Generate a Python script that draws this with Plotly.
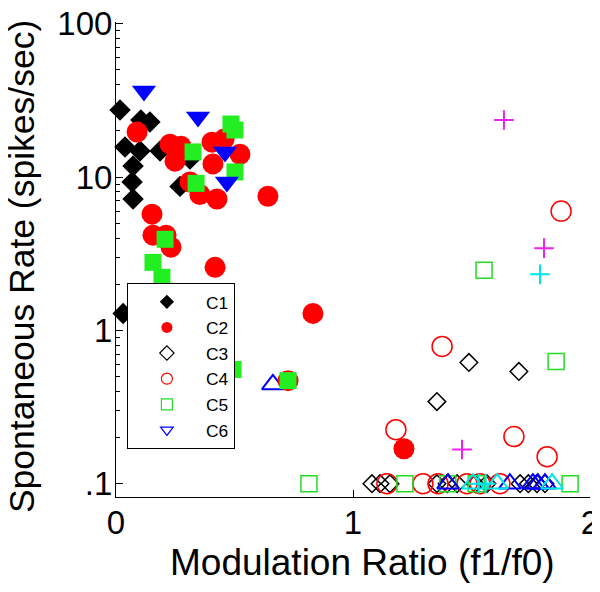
import plotly.graph_objects as go

# ---- data ----
# C1: filled black diamonds
c1_x = [0.017, 0.105, 0.143, 0.038, 0.101, 0.072, 0.068, 0.072, 0.186, 0.270, 0.312, 0.030]
c1_y = [27.4, 23.6, 22.9, 15.7, 14.8, 11.8, 9.3, 7.2, 14.8, 8.7, 13.1, 1.29]
# C2: filled red circles
c2_x = [0.089, 0.152, 0.156, 0.211, 0.232, 0.418, 0.228, 0.274, 0.249, 0.405, 0.456, 0.523,
        0.409, 0.312, 0.354, 0.426, 0.641, 0.831, 0.726, 1.215]
c2_y = [19.7, 5.73, 4.18, 4.18, 3.49, 2.58, 16.4, 15.9, 12.7, 16.9, 17.7, 14.1,
        12.2, 9.3, 7.7, 7.2, 7.5, 1.29, 0.47, 0.169]
# filled green squares
g_fill_x = [0.325, 0.338, 0.485, 0.502, 0.502, 0.207, 0.156, 0.194, 0.494, 0.726]
g_fill_y = [14.6, 9.1, 22.2, 20.3, 10.8, 3.93, 2.78, 2.22, 0.556, 0.47]
# filled blue down-triangles
b_fill_x = [0.118, 0.346, 0.460, 0.468]
b_fill_y = [36.5, 24.7, 14.6, 9.3]
# C3: open black diamonds
c3_x = [1.489, 1.700, 1.354, 1.080, 1.114, 1.156, 1.354, 1.397, 1.439, 1.515, 1.565, 1.705,
        1.740, 1.776, 1.810]
c3_y = [0.618, 0.54, 0.343, 0.1, 0.1, 0.1, 0.1, 0.1, 0.1, 0.1, 0.1, 0.1, 0.1, 0.1, 0.1]
# C4: open red circles
c4_x = [1.878, 1.376, 1.679, 1.819, 1.181, 1.143, 1.295, 1.359, 1.481, 1.536, 1.620]
c4_y = [6.0, 0.786, 0.203, 0.150, 0.225, 0.1, 0.1, 0.1, 0.1, 0.1, 0.1]
# C5: open green squares
c5_x = [1.553, 1.857, 0.814, 1.219, 1.400, 1.520, 1.916]
c5_y = [2.47, 0.627, 0.1, 0.1, 0.1, 0.1, 0.1]
# C6-like: open blue up-triangles
b_open_x = [0.662, 1.401, 1.662, 1.759, 1.780, 1.810]
b_open_y = [0.444, 0.1, 0.1, 0.1, 0.1, 0.1]
# open cyan up-triangles
cy_tri_x = [1.506, 1.608, 1.840]
cy_tri_y = [0.1, 0.1, 0.1]
# cyan plus
cy_plus_x = [1.789, 1.530, 1.560]
cy_plus_y = [2.32, 0.1, 0.1]
# magenta plus
mg_plus_x = [1.637, 1.806, 1.460]
mg_plus_y = [23.6, 3.44, 0.167]

legend_names = ["C1", "C2", "C3", "C4", "C5", "C6"]

x_tickvals = [0, 1, 2]
x_ticktext = ["0", "1", "2"]
y_tickvals = [0.1, 1, 10, 100]
y_ticktext = [".1", "1", "10", "100"]
y_minor = [m * d for d in (0.1, 1, 10) for m in range(2, 10)]

x_title = "Modulation Ratio (f1/f0)"
y_title = "Spontaneous Rate (spikes/sec)"

FONT = "Liberation Sans, Arial, Helvetica, sans-serif"

fig = go.Figure()

def add(x, y, symbol, color, size, lw=1.5, lcolor=None):
    fig.add_trace(go.Scatter(
        x=x, y=y, mode="markers", showlegend=False, cliponaxis=False,
        marker=dict(symbol=symbol, size=size, color=color,
                    line=dict(width=lw, color=lcolor if lcolor else color)),
        hoverinfo="skip"))

# open markers at the back
add(c3_x, c3_y, "diamond-open", "black", 13.5)
add(c4_x, c4_y, "circle-open", "#ff0000", 20)
add(c5_x, c5_y, "square-open", "#22dd22", 16)
add(b_open_x, b_open_y, "triangle-up-open", "#0000ff", 19, lw=2)
add(cy_tri_x, cy_tri_y, "triangle-up-open", "#00e5e5", 19, lw=2)
add(cy_plus_x, cy_plus_y, "cross-thin-open", "#00e5e5", 14, lw=2)
add(mg_plus_x, mg_plus_y, "cross-thin-open", "#ee22ee", 14, lw=2)
# filled markers
add(c1_x, c1_y, "diamond", "black", 16.5, lw=0)
add(c2_x, c2_y, "circle", "#ff0000", 21, lw=0)
add(g_fill_x, g_fill_y, "square", "#22ee22", 17, lw=0)
add(b_fill_x, b_fill_y, "triangle-down", "#0000ff", 21, lw=0)

# legend entries
leg_styles = [
    ("diamond", "black", 0),
    ("circle", "#ff0000", 0),
    ("diamond-open", "black", 1.2),
    ("circle-open", "#ff0000", 1.2),
    ("square-open", "#22dd22", 1.2),
    ("triangle-down-open", "#0000ff", 1.2),
]
for name, (sym, col, lw) in zip(legend_names, leg_styles):
    fig.add_trace(go.Scatter(
        x=[None], y=[None], mode="markers", name=name,
        marker=dict(symbol=sym, size=11, color=col, line=dict(width=lw, color=col))))

# the page body has an 8px margin, so the figure is 592x584 and offset by 8px
fig.update_layout(
    width=592, height=584,
    margin=dict(l=108, r=10, t=14, b=95),
    paper_bgcolor="white", plot_bgcolor="white",
    font=dict(family=FONT, color="black"),
    legend=dict(x=0.023, y=0.4505, xanchor="left", yanchor="top",
                bordercolor="black", borderwidth=1, bgcolor="white",
                font=dict(size=17.4, family=FONT), itemwidth=68, tracegroupgap=0),
    xaxis=dict(range=[0, 2], tickvals=x_tickvals, ticktext=x_ticktext, automargin=False,
               showgrid=False, zeroline=False, showline=True, linecolor="black",
               linewidth=1, ticks="inside", ticklen=7, tickcolor="black",
               tickfont=dict(size=33), ticklabelstandoff=-4, ticklabeloverflow="allow"),
    yaxis=dict(type="log", range=[-1.087, 2.012], tickvals=y_tickvals, ticktext=y_ticktext,
               automargin=False,
               showgrid=False, zeroline=False, showline=True, linecolor="black",
               linewidth=1, ticks="inside", ticklen=7, tickcolor="black",
               tickfont=dict(size=33), ticklabelstandoff=-4, ticklabeloverflow="allow",
               minor=dict(tickvals=y_minor, ticks="inside", ticklen=4, tickcolor="black")),
    annotations=[
        dict(text=x_title, xref="paper", yref="paper", x=0.521, y=-0.137,
             xanchor="center", yanchor="middle", showarrow=False,
             font=dict(size=37, family=FONT, color="black")),
        dict(text=y_title, xref="paper", yref="paper", x=-0.1983, y=0.484,
             xanchor="center", yanchor="middle", textangle=-90, showarrow=False,
             font=dict(size=35.5, family=FONT, color="black")),
    ],
)

fig.write_html("out.html")
